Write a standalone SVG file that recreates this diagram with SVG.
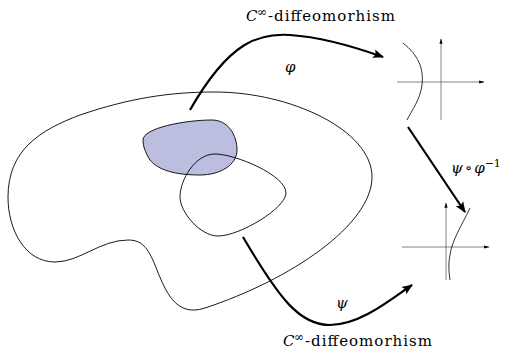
<svg xmlns="http://www.w3.org/2000/svg" width="511" height="351" viewBox="0 0 511 351">
<style>
.outline{fill:none;stroke:#000;stroke-width:0.9}
.blue{fill:#bbbedf;stroke:#000;stroke-width:0.9}
.map{fill:none;stroke:#000;stroke-width:2.2}
.axis{fill:none;stroke:#333;stroke-width:0.6}
.thin{fill:none;stroke:#000;stroke-width:0.8}
.it{font-style:italic}
</style>
<defs>
<marker id="big" viewBox="0 0 10 10" refX="9" refY="5" markerWidth="5" markerHeight="5" markerUnits="strokeWidth" orient="auto">
<path d="M0,1 L10,5 L0,9 L2,5 Z" fill="#000"/>
</marker>
<marker id="small" viewBox="0 0 10 10" refX="9" refY="5" markerWidth="9" markerHeight="9" markerUnits="strokeWidth" orient="auto">
<path d="M0,2 L10,5 L0,8 Z" fill="#000"/>
</marker>
</defs>
<g id="manifold">
<path class="outline" d="M215,92 C290,92 372,130 372,177 C372,225 290,280 205,308 C175,318 165,290 155,265 C148,248 142,240 128,240 C100,240 80,262 55,262 C25,262 8,230 8,197 C8,150 40,130 80,115 C130,98 170,92 215,92 Z"/>
</g>
<g id="chart-u">
<path class="blue" d="M143,140 C143,128 185,120 212,120 C228,120 237,135 237,150 C237,165 220,175 200,175 C175,175 158,170 150,160 C145,152 143,146 143,140 Z"/>
</g>
<g id="chart-v">
<path class="outline" d="M215,154 C235,154 286,175 286,193 C286,208 240,236 218,236 C200,236 180,212 180,197 C180,180 195,154 215,154 Z"/>
</g>
<g id="plane-top">
<line class="axis" x1="397" y1="82" x2="484" y2="82" marker-end="url(#small)"/>
<line class="axis" x1="441" y1="120" x2="441" y2="39" marker-end="url(#small)"/>
<path class="thin" d="M403,43 C418,55 424,68 422,85 C420,100 412,110 407,120"/>
</g>
<g id="plane-bottom">
<line class="axis" x1="402" y1="247" x2="489" y2="247" marker-end="url(#small)"/>
<line class="axis" x1="446" y1="280" x2="446" y2="203" marker-end="url(#small)"/>
<path class="thin" d="M470,208 C462,225 452,240 450,255 C448,265 449,272 450,280"/>
</g>
<g id="connectors">
<path class="map" d="M190,110 C230,40 260,33 290,35 C320,37 355,47 383,57" marker-end="url(#big)"/>
<path class="map" d="M243,237 C280,300 300,325 330,325 C360,325 390,300 412,285" marker-end="url(#big)"/>
<path class="map" d="M408,127 L465,212" marker-end="url(#big)"/>
</g>
<g id="labels" font-family="'DejaVu Serif', 'Liberation Serif', serif" fill="#000">
<text x="246" y="21" font-size="15" class="it">C</text>
<text x="257" y="16" font-size="12">∞</text>
<text x="268" y="21" font-size="15" textLength="127" lengthAdjust="spacing">-diffeomorhism</text>
<text x="283" y="346" font-size="15" class="it">C</text>
<text x="294" y="341" font-size="12">∞</text>
<text x="305" y="346" font-size="15" textLength="127" lengthAdjust="spacing">-diffeomorhism</text>
<text x="285" y="72" font-size="15" class="it">φ</text>
<text x="336" y="308" font-size="15" class="it">ψ</text>
<text x="451" y="173" font-size="15"><tspan class="it">ψ</tspan><tspan dx="2">∘</tspan><tspan dx="2" class="it">φ</tspan><tspan font-size="11" dy="-6">−1</tspan></text>
</g>
</svg>
